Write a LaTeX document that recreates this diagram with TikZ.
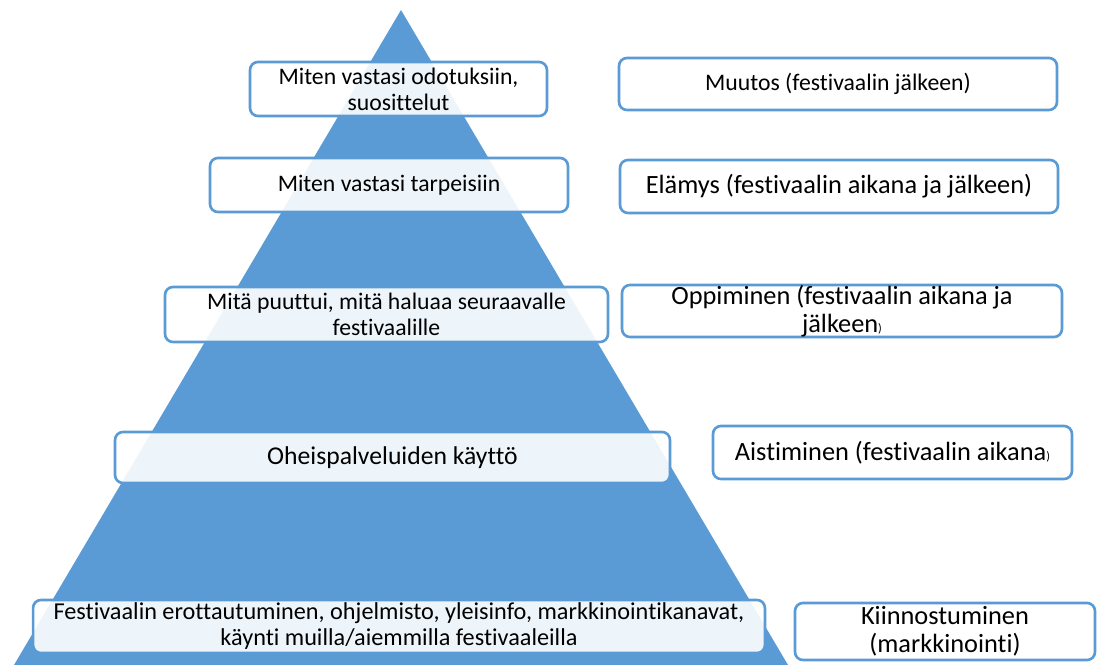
\documentclass[tikz,border=0pt]{standalone}
\usepackage{fontspec}
\setmainfont{Carlito}[Ligatures=NoCommon]
\usetikzlibrary{positioning}
\definecolor{pyrblue}{HTML}{5B9BD5}

\begin{document}
\begin{tikzpicture}[x=0.02cm,y=-0.02cm,
    box/.style={draw=pyrblue, line width=1.5pt, rounded corners=4.5pt, fill=white, fill opacity=0.9, text opacity=1, align=center, inner sep=0pt},
    every node/.style={font=\fontsize{13.5}{14.7}\selectfont}]
    \useasboundingbox (0,0) rectangle (1103,665);
    \fill[pyrblue] (401,10) coordinate (apex) -- (788,665) coordinate (br) -- (14,665) coordinate (bl) -- cycle;
    % levels on the pyramid
    \node[box, minimum width=5.94cm, minimum height=1.08cm] (odotus) at (398.5,89) {Miten vastasi odotuksiin,\\suosittelut};
    \node[box, minimum width=7.16cm, minimum height=1.08cm] (tarve) at (389,185) {Miten vastasi tarpeisiin};
    \node[box, minimum width=8.86cm, minimum height=1.1cm] (puute) at (386.5,314.5) {Mitä puuttui, mitä haluaa seuraavalle\\festivaalille};
    \node[box, minimum width=11.1cm, minimum height=1.02cm, font=\fontsize{14.6}{16}\selectfont] (ohei) at (392.5,457.5) {Oheispalveluiden käyttö};
    \node[box, minimum width=14.64cm, minimum height=1.06cm, font=\fontsize{13.8}{14.8}\selectfont] (ero) at (399,626.5) {Festivaalin erottautuminen, ohjelmisto, yleisinfo, markkinointikanavat,\\käynti muilla/aiemmilla festivaaleilla};
    % phases on the right
    \node[box, minimum width=8.76cm, minimum height=1.04cm] (muutos) at (838,84) {Muutos (festivaalin jälkeen)};
    \node[box, minimum width=8.76cm, minimum height=1.06cm, font=\fontsize{15}{16}\selectfont] (elamys) at (839,186.5) {Elämys (festivaalin aikana ja jälkeen)};
    \node[box, minimum width=8.8cm, minimum height=1.04cm, font=\fontsize{15}{15.9}\selectfont] (oppi) at (842,311) {Oppiminen (festivaalin aikana ja\\jälkeen{\fontsize{7}{8}\selectfont)}};
    \node[box, minimum width=7.18cm, minimum height=1.06cm, font=\fontsize{15}{16}\selectfont] (aisti) at (892.5,452.5) {Aistiminen (festivaalin aikana{\fontsize{7}{8}\selectfont)}};
    \node[box, minimum width=6cm, minimum height=1.14cm, font=\fontsize{15}{15.9}\selectfont] (kiinn) at (945,631.5) {Kiinnostuminen\\(markkinointi)};
\end{tikzpicture}
\end{document}
